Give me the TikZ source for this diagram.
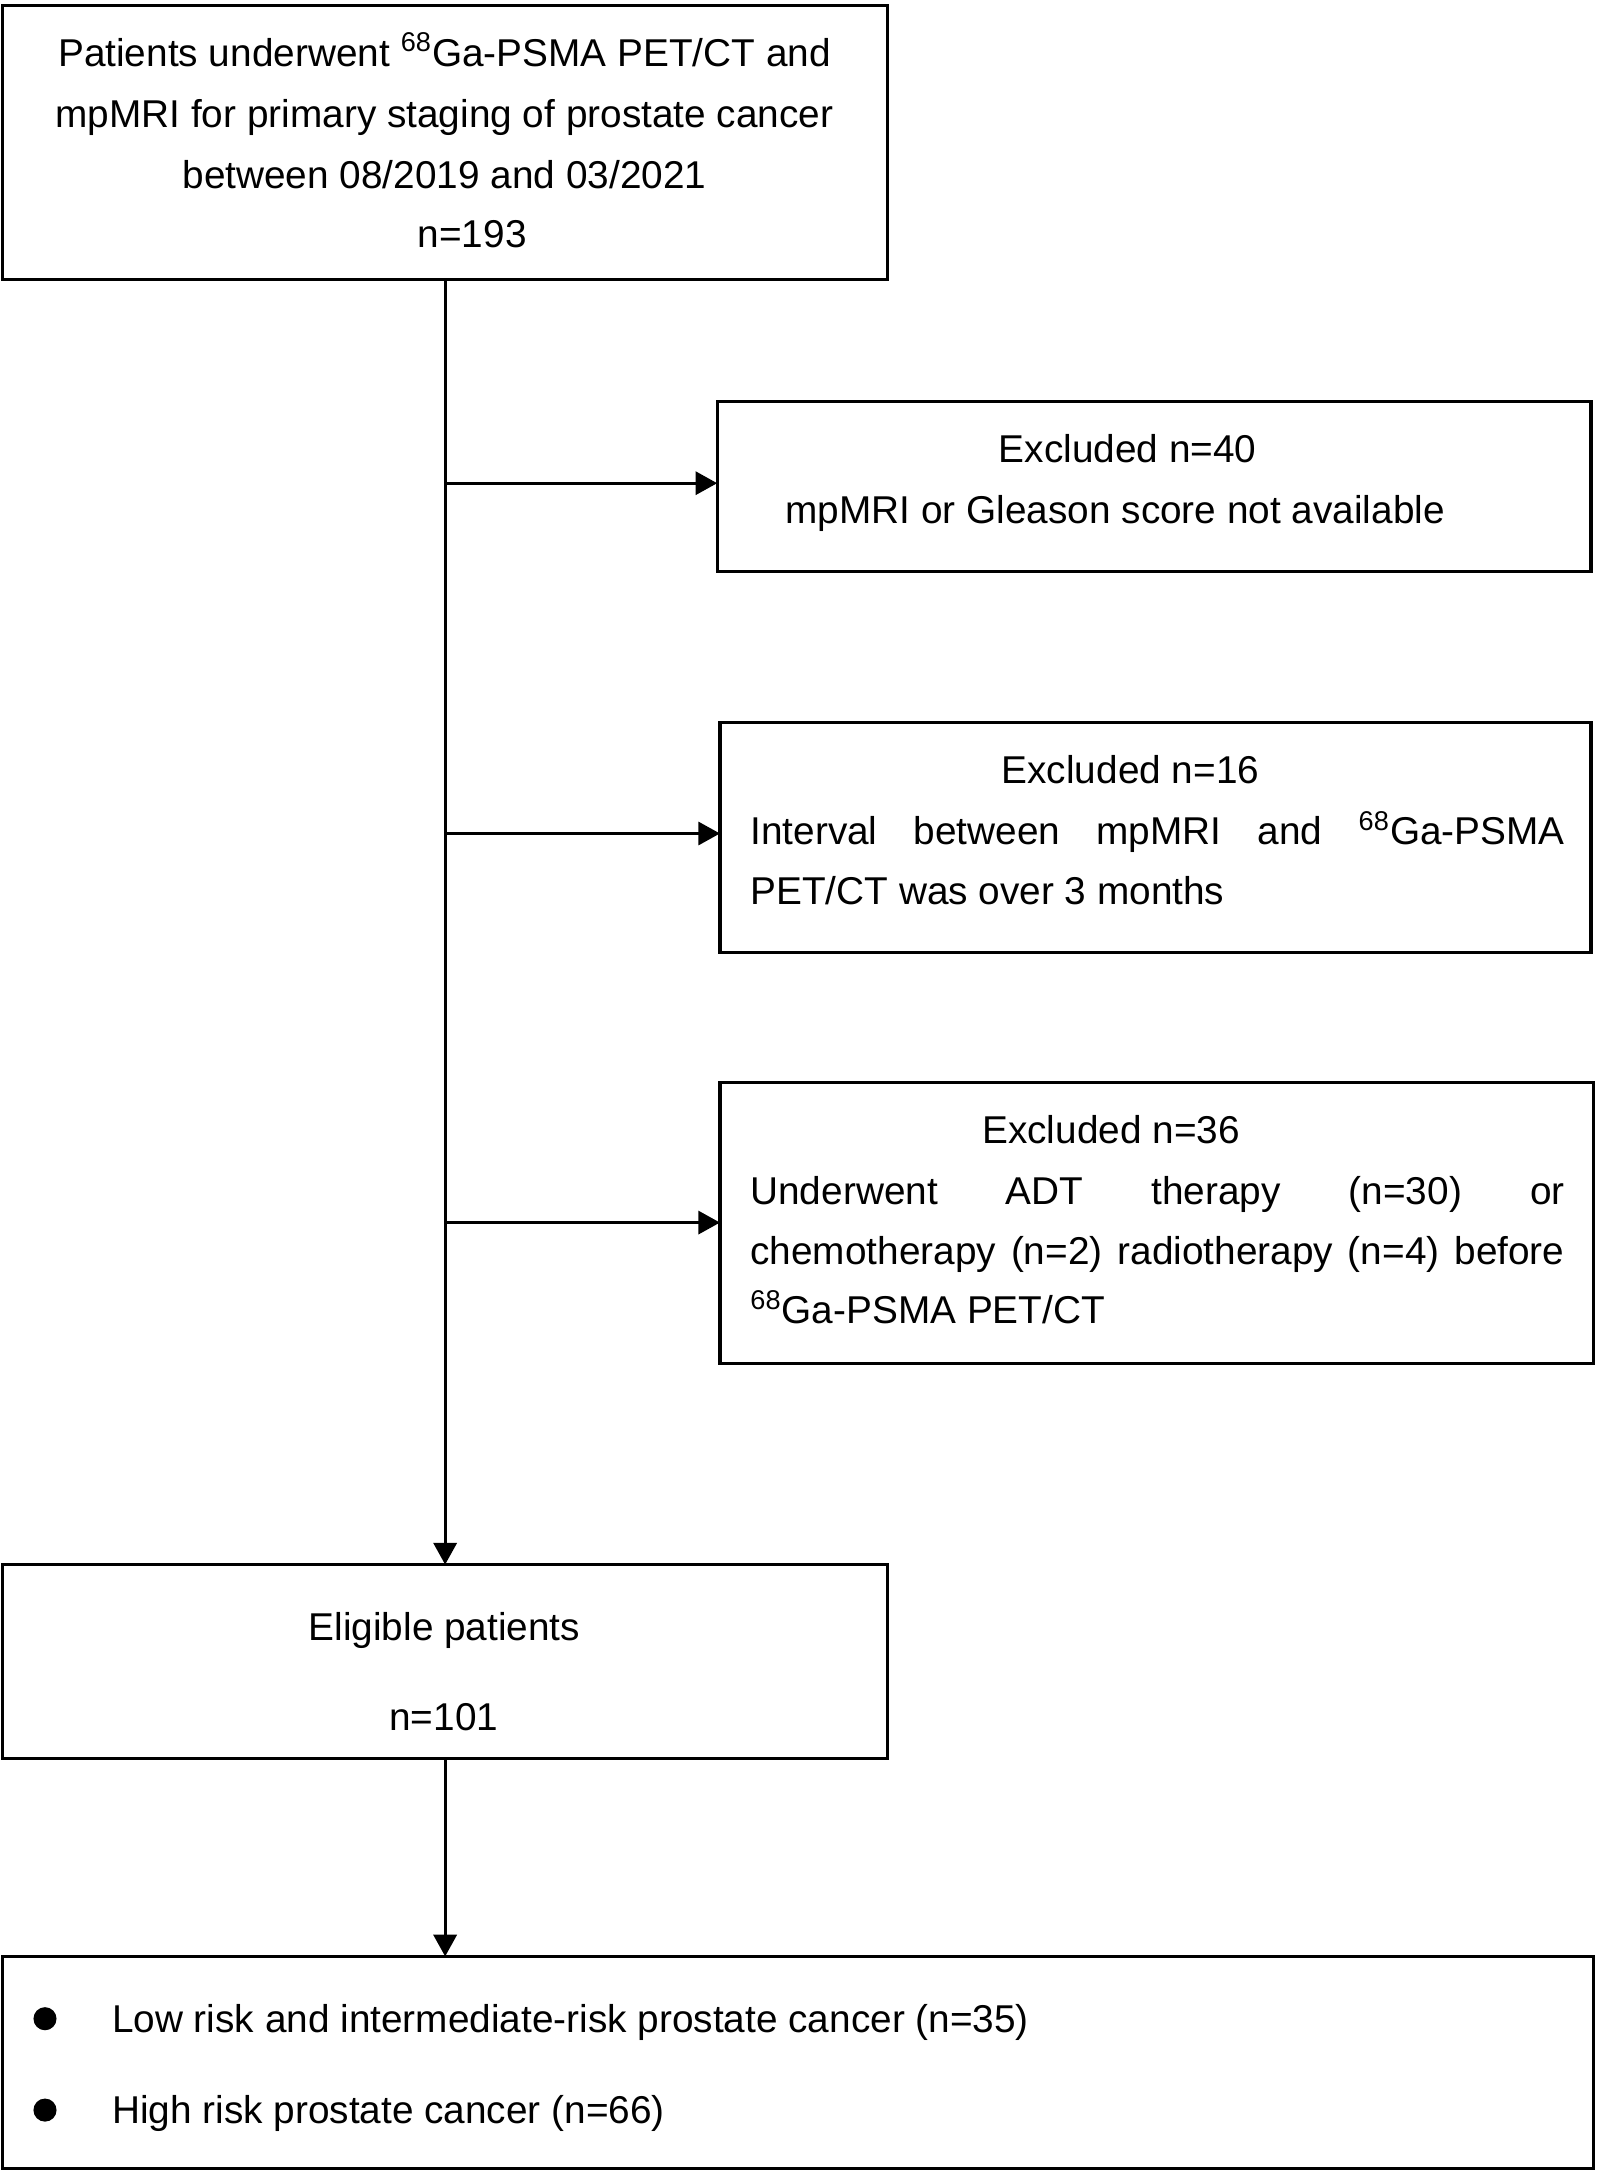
\documentclass[tikz,border=0pt]{standalone}
\usepackage{fontspec}
\setmainfont{Liberation Sans}
\usetikzlibrary{arrows.meta}
\tikzset{
  box/.style={draw, line width=1.4pt, inner sep=0pt, outer sep=0pt},
  txt/.style={inner sep=0pt, outer sep=0pt, anchor=base, font=\fontsize{16.8}{26.4}\selectfont},
  txtl/.style={txt, anchor=base west},
  arr/.style={line width=1.4pt, -{Triangle[length=9.4pt,width=10pt]}},
  bullet/.style={circle, fill=black, inner sep=0pt, minimum size=10pt}
}
\newcommand{\jline}[1]{\makebox[352.8pt][s]{#1}}
\begin{document}
\begin{tikzpicture}[x=0.6pt,y=-0.6pt]
\useasboundingbox (0,0) rectangle (1156,1568);
% boxes
\node[box, minimum width=383.4pt, minimum height=118.8pt] (top) at (321.5,103) {};
\node[box, minimum width=378.6pt, minimum height=73.8pt] (ex1) at (833.5,351.5) {};
\node[box, minimum width=377.4pt, minimum height=99.6pt] (ex2) at (834.5,605) {};
\node[box, minimum width=378.6pt, minimum height=121.8pt] (ex3) at (835.5,883.5) {};
\node[box, minimum width=383.4pt, minimum height=84pt] (elig) at (321.5,1200) {};
\node[box, minimum width=689.4pt, minimum height=91.8pt] (res) at (576.5,1489.5) {};
% top text
\node[txt] (t1) at (321,48) {Patients underwent \textsuperscript{68}Ga-PSMA PET/CT and};
\node[txt] (t2) at (321,92) {mpMRI for primary staging of prostate cancer};
\node[txt] (t3) at (321,136) {between 08/2019 and 03/2021};
\node[txt] (t4) at (341,179) {n=193};
% excluded 1
\node[txt] (e1a) at (814.5,334) {Excluded n=40};
\node[txt] (e1b) at (805.5,378) {mpMRI or Gleason score not available};
% excluded 2
\node[txt] (e2a) at (816.5,566) {Excluded n=16};
\node[txtl] (e2b) at (542,610) {\jline{Interval\hfill between\hfill mpMRI\hfill and\hfill \textsuperscript{68}Ga-PSMA}};
\node[txtl] (e2c) at (542,653) {PET/CT was over 3 months};
% excluded 3
\node[txt] (e3a) at (802.5,826) {Excluded n=36};
\node[txtl] (e3b) at (542,870) {\jline{Underwent\hfill ADT\hfill therapy\hfill (n=30)\hfill or}};
\node[txtl] (e3c) at (542,913) {\jline{chemotherapy\hfill (n=2)\hfill radiotherapy\hfill (n=4)\hfill before}};
\node[txtl] (e3d) at (542,956) {\textsuperscript{68}Ga-PSMA PET/CT};
% eligible
\node[txt] (g1) at (321,1185) {Eligible patients};
\node[txt] (g2) at (320.5,1250) {n=101};
% results
\node[bullet] (bu1) at (32.5,1458) {};
\node[bullet] (bu2) at (32.5,1524) {};
\node[txtl] (r1) at (81,1468) {Low risk and intermediate-risk prostate cancer (n=35)};
\node[txtl] (r2) at (81,1534) {High risk prostate cancer (n=66)};
% connectors
\coordinate (b1) at (321.5,349);
\coordinate (b2) at (321.5,602);
\coordinate (b3) at (321.5,883);
\draw[arr] (top.south) -- (elig.north);
\draw[arr] (b1) -- (b1 -| ex1.west);
\draw[arr] (b2) -- (b2 -| ex2.west);
\draw[arr] (b3) -- (b3 -| ex3.west);
\draw[arr] (elig.south) -- (elig.south |- res.north);
\end{tikzpicture}
\end{document}
